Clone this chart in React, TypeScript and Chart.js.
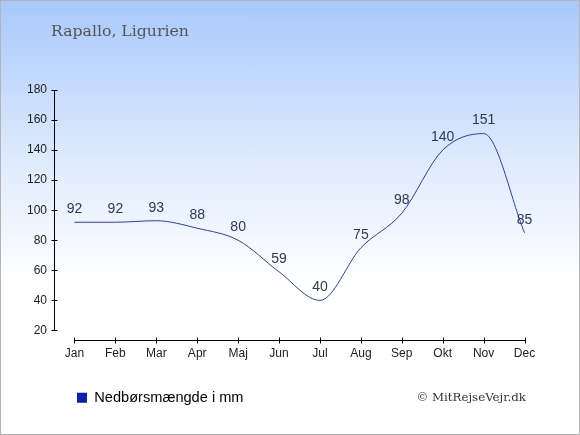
import React, { useEffect, useRef } from "react";
import { Chart, registerables } from "chart.js";

Chart.register(...registerables);

const months = ["Jan", "Feb", "Mar", "Apr", "Maj", "Jun", "Jul", "Aug", "Sep", "Okt", "Nov", "Dec"];
const precipitation = [92, 92, 93, 88, 80, 59, 40, 75, 98, 140, 151, 85];
const yTicks = [20, 40, 60, 80, 100, 120, 140, 160, 180];
const titleText = "Rapallo, Ligurien";
const seriesName = "Nedbørsmængde i mm";
const copyrightText = "© MitRejseVejr.dk";

const SANS = "'Liberation Sans', Arial, sans-serif";
const SERIF = "'DejaVu Serif', serif";

const decorPlugin = {
  id: "decor",
  beforeDraw(chart: any) {
    const ctx = chart.ctx;
    ctx.save();
    ctx.fillStyle = "#555555";
    ctx.font = `15.7px ${SERIF}`;
    ctx.textAlign = "left";
    ctx.textBaseline = "middle";
    ctx.fillText(titleText, 51, 32);
    ctx.fillStyle = "#333333";
    ctx.font = `11.8px ${SERIF}`;
    ctx.textAlign = "right";
    ctx.fillText(copyrightText, 526, 398);
    ctx.restore();
  },
  afterDraw(chart: any) {
    const ctx = chart.ctx;
    const x = chart.scales.x;
    const y = chart.scales.y;
    ctx.save();
    ctx.strokeStyle = "#000000";
    ctx.lineWidth = 1;
    // y axis
    const ax = Math.round(chart.chartArea.left) + 0.5;
    const yTop = y.getPixelForValue(yTicks[yTicks.length - 1]);
    const yBot = y.getPixelForValue(yTicks[0]);
    ctx.beginPath();
    ctx.moveTo(ax, Math.round(yTop) + 0.5);
    ctx.lineTo(ax, Math.round(yBot) + 0.5);
    yTicks.forEach((v) => {
      const py = Math.round(y.getPixelForValue(v)) + 0.5;
      ctx.moveTo(ax - 3, py);
      ctx.lineTo(ax + 3, py);
    });
    ctx.stroke();
    // x axis
    const ay = Math.round(chart.chartArea.bottom + 10) + 0.5;
    const x0 = x.getPixelForValue(0);
    const x1 = x.getPixelForValue(months.length - 1);
    ctx.beginPath();
    ctx.moveTo(Math.round(x0) + 0.5, ay);
    ctx.lineTo(Math.round(x1) + 0.5, ay);
    months.forEach((_, i) => {
      const px = Math.round(x.getPixelForValue(i)) + 0.5;
      ctx.moveTo(px, ay - 3);
      ctx.lineTo(px, ay + 3);
    });
    ctx.stroke();
    ctx.restore();
  },
  afterDatasetsDraw(chart: any) {
    const ctx = chart.ctx;
    const meta = chart.getDatasetMeta(0);
    ctx.save();
    ctx.fillStyle = "#2b3a55";
    ctx.font = `14px ${SANS}`;
    ctx.textAlign = "center";
    ctx.textBaseline = "middle";
    meta.data.forEach((pt: any, i: number) => {
      ctx.fillText(String(precipitation[i]), pt.x, pt.y - 13);
    });
    ctx.restore();
  },
};

export default function App() {
  const ref = useRef<HTMLCanvasElement | null>(null);
  useEffect(() => {
    if (!ref.current) return;
    const chart = new Chart(ref.current, {
      type: "line",
      data: {
        labels: months,
        datasets: [
          {
            label: seriesName,
            data: precipitation,
            borderColor: "#2a3abd",
            backgroundColor: "#0a20b0",
            borderWidth: 1,
            pointRadius: 0,
            cubicInterpolationMode: "monotone",
            fill: false,
          },
        ],
      },
      options: {
        responsive: false,
        animation: false,
        layout: { padding: { left: 0, right: 35, top: 90, bottom: 20 } },
        plugins: {
          title: { display: false },
          tooltip: { enabled: false },
          legend: {
            display: true,
            position: "bottom",
            align: "start",
            fullSize: false,
            labels: {
              boxWidth: 10,
              boxHeight: 10,
              padding: 23,
              color: "#222222",
              font: { family: SANS, size: 14.6 },
              generateLabels: () => [
                {
                  text: seriesName,
                  fillStyle: "#0a20b0",
                  strokeStyle: "#0a20b0",
                  lineWidth: 0,
                  hidden: false,
                  datasetIndex: 0,
                },
              ],
            },
          },
        },
        scales: {
          x: {
            offset: true,
            grid: { display: false, drawTicks: false },
            border: { display: false },
            ticks: { color: "#222222", font: { family: SANS, size: 12 }, padding: 16, maxRotation: 0 },
            afterFit: (s: any) => {
              s.height = 37;
            },
          },
          y: {
            min: 20,
            max: 180,
            grid: { display: false, drawTicks: false },
            border: { display: false },
            ticks: { stepSize: 20, color: "#222222", font: { family: SANS, size: 12 }, padding: 7 },
            afterFit: (s: any) => {
              s.width = 54;
            },
          },
        },
      },
      plugins: [decorPlugin],
    } as any);
    return () => chart.destroy();
  }, []);
  return (
    <div
      style={{
        position: "fixed",
        left: 0,
        top: 0,
        width: 580,
        height: 435,
        background: "linear-gradient(to bottom, #a8c8fb 0%, #dce9fd 35%, #ffffff 65%, #ffffff 100%)",
      }}
    >
      <canvas ref={ref} width={580} height={435} style={{ width: 580, height: 435, display: "block" }} />
      <div
        style={{
          position: "absolute",
          left: 0,
          top: 0,
          width: 580,
          height: 435,
          boxSizing: "border-box",
          border: "1px solid #b4b4b4",
          pointerEvents: "none",
        }}
      />
    </div>
  );
}
